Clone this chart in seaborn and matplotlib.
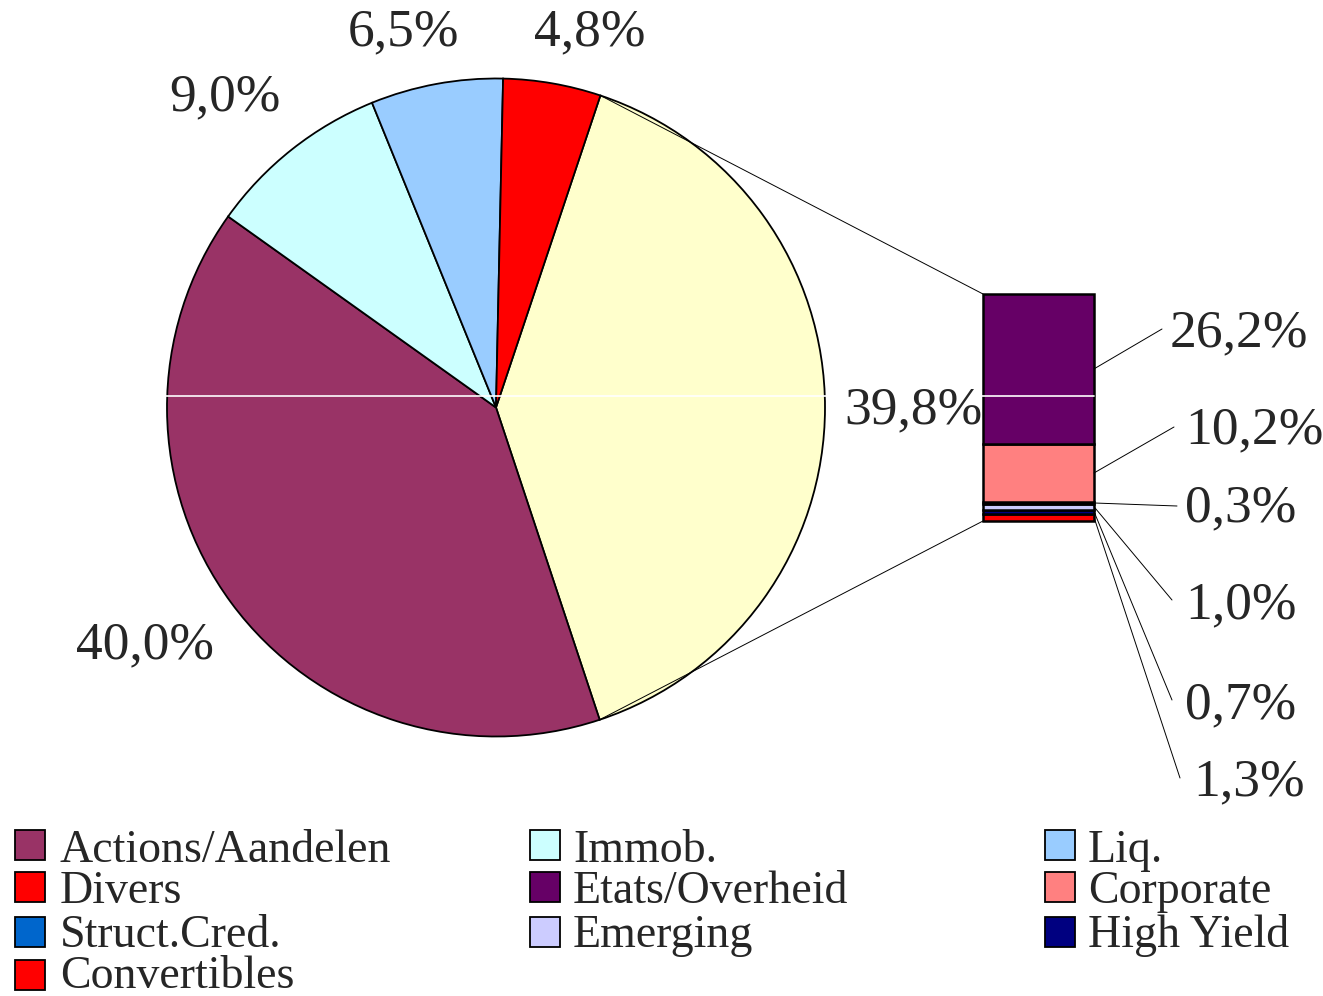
import numpy as np
import matplotlib
matplotlib.use("Agg")
import matplotlib.pyplot as plt
import seaborn as sns
from matplotlib.patches import Rectangle

# ---------------- data ----------------
pie_labels = ["Obligations", "Actions/Aandelen", "Immob.", "Liq.", "Divers"]
pie_values = [39.8, 40.0, 9.0, 6.5, 4.8]
pie_text = ["39,8%", "40,0%", "9,0%", "6,5%", "4,8%"]
pie_colors = ["#FFFFCC", "#993366", "#CCFFFF", "#99CCFF", "#FF0000"]

bar_labels = ["Etats/Overheid", "Corporate", "Struct.Cred.", "Emerging", "High Yield", "Convertibles"]
bar_values = [26.2, 10.2, 0.3, 1.0, 0.7, 1.3]
bar_text = ["26,2%", "10,2%", "0,3%", "1,0%", "0,7%", "1,3%"]
bar_colors = ["#660066", "#FF8080", "#0066CC", "#CCCCFF", "#000080", "#FF0000"]

legend_labels = ["Actions/Aandelen", "Immob.", "Liq.",
                 "Divers", "Etats/Overheid", "Corporate",
                 "Struct.Cred.", "Emerging", "High Yield",
                 "Convertibles"]
legend_colors = ["#993366", "#CCFFFF", "#99CCFF",
                 "#FF0000", "#660066", "#FF8080",
                 "#0066CC", "#CCCCFF", "#000080",
                 "#FF0000"]

# ---------------- style ----------------
sns.set_theme(style="white")
plt.rcParams["font.family"] = ["Liberation Serif", "DejaVu Serif"]

W, H = 1323, 996
fig = plt.figure(figsize=(W / 100, H / 100), dpi=100)

# ---------------- pie ----------------
cx, cy, r = 496, 407.5, 329
half = 350
pie_ax = fig.add_axes([(cx - half) / W, (H - cy - half) / H, 2 * half / W, 2 * half / H])
wedges, _ = pie_ax.pie(pie_values, colors=pie_colors, startangle=71.5, counterclock=False,
                       wedgeprops=dict(edgecolor="black", linewidth=1.3))
lim = half / r
pie_ax.set_xlim(-lim, lim)
pie_ax.set_ylim(-lim, lim)
pie_ax.set_aspect("auto")
pie_ax.axis("off")

# ---------------- stacked bar ----------------
bx0, bx1, by0, by1 = 983, 1094, 294, 521
bar_ax = fig.add_axes([bx0 / W, (H - by1) / H, (bx1 - bx0) / W, (by1 - by0) / H])
total = sum(bar_values)
bottom = 0.0
for v, c in zip(reversed(bar_values), reversed(bar_colors)):
    bar_ax.bar(0, v, bottom=bottom, width=1.0, color=c, edgecolor="black",
               linewidth=1.8, clip_on=False)
    bottom += v
bar_ax.set_xlim(-0.5, 0.5)
bar_ax.set_ylim(0, total)
bar_ax.axis("off")

# ---------------- overlay (pixel coordinates) ----------------
ax = fig.add_axes([0, 0, 1, 1], zorder=5)
ax.set_xlim(0, W)
ax.set_ylim(H, 0)
ax.axis("off")
ax.patch.set_alpha(0)

fs_lab = 38.5
# connector lines from pie to bar
w0 = wedges[0]
for t, yb in [(w0.theta2, by0), (w0.theta1, by1)]:
    px = cx + r * np.cos(np.radians(t))
    py = cy - r * np.sin(np.radians(t))
    ax.plot([px, bx0], [py, yb], color="black", lw=0.7)

# white artifact line across the chart
ax.plot([166, bx1], [396, 396], color="white", lw=1.2, zorder=1)

# pie labels
pie_pos = [(913, 410), (145, 645), (225, 97), (404, 32), (590, 32)]
for (x, y), t in zip(pie_pos, pie_text):
    ax.text(x, y, t, ha="center", va="center", fontsize=fs_lab, zorder=3)

# bar labels with leader lines
scale = (by1 - by0) / total
cum = 0.0
mids = []
for v in bar_values:
    mids.append(by0 + (cum + v / 2) * scale)
    cum += v
line_ends = [(1162, 329), (1174, 427), (1177, 506), (1172, 600), (1172, 700), (1180, 778)]
lab_pos = [(1170, 333), (1185, 430), (1185, 508), (1185, 605), (1185, 705), (1193, 782)]
for m, (ex, ey), (lx, ly), t in zip(mids, line_ends, lab_pos, bar_text):
    ax.plot([bx1, ex], [m, ey], color="black", lw=0.7)
    ax.text(lx, ly, t, ha="left", va="center", fontsize=fs_lab, zorder=3)

# legend
col_box_x = [15, 530, 1045]
col_txt_x = [60, 573, 1088]
row_box_c = [845, 887, 932, 975]
row_base = [862, 903, 947, 988]
box = 30
for i, (lab, col) in enumerate(zip(legend_labels, legend_colors)):
    rr, cc = divmod(i, 3)
    ax.add_patch(Rectangle((col_box_x[cc], row_box_c[rr] - box / 2), box, box, facecolor=col,
                           edgecolor="black", lw=1.3))
    ax.text(col_txt_x[cc], row_base[rr], lab, ha="left", va="baseline", fontsize=33)

fig.savefig("out.png", dpi=100, facecolor="white")
